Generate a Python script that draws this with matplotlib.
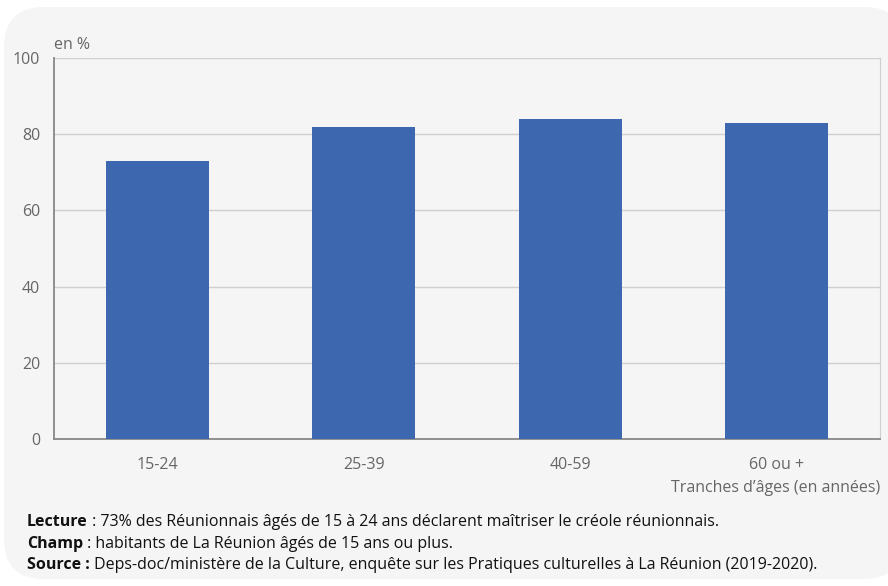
import matplotlib.pyplot as plt
from matplotlib.patches import FancyBboxPatch

plt.rcParams['font.family'] = ['Open Sans', 'DejaVu Sans']

# share of people who say they master Reunion Creole, by age group
age_groups = ['15-24', '25-39', '40-59', '60 ou +']
share_pct = [73, 82, 84, 83]
y_ticks = [0, 20, 40, 60, 80, 100]

BAR_COLOR = '#3d67ae'
TEXT_GRAY = '#666666'
GRID_GRAY = '#cfcfcf'
FS = 11.5

W, H = 888, 586
fig = plt.figure(figsize=(W / 100, H / 100), dpi=100)
fig.patch.set_facecolor('white')

# rounded light panel behind everything
panel = FancyBboxPatch((4 / W, 7 / H), 900 / W, (H - 7 - 7) / H,
                       boxstyle='round,pad=0,rounding_size=0.045',
                       transform=fig.transFigure, facecolor='#f5f5f5',
                       edgecolor='none', zorder=-1,
                       mutation_aspect=W / H)
fig.patches.append(panel)

ax = fig.add_axes([54 / W, (H - 439) / H, (880 - 54) / W, (439 - 58) / H])
ax.set_facecolor('none')
ax.set_zorder(1)

x = range(len(age_groups))
ax.bar(x, share_pct, width=0.5, color=BAR_COLOR, zorder=3)

ax.set_xlim(-0.5, len(age_groups) - 0.5)
ax.set_ylim(0, 100)
ax.set_yticks(y_ticks)
ax.set_xticks(list(x))
ax.set_xticklabels(age_groups)
ax.yaxis.grid(True, color=GRID_GRAY, linewidth=1, zorder=0)
ax.set_axisbelow(True)
ax.tick_params(axis='both', length=0, labelsize=FS, colors=TEXT_GRAY)
ax.tick_params(axis='x', pad=13)
ax.tick_params(axis='y', pad=10)

for side in ('left', 'bottom'):
    ax.spines[side].set_color('#888888')
    ax.spines[side].set_linewidth(1.3)
ax.spines['top'].set_visible(False)
ax.spines['right'].set_color(GRID_GRAY)

fig.text(54 / W, 1 - 45 / H, 'en %', fontsize=FS, color=TEXT_GRAY,
         ha='left', va='center')
fig.text(880 / W, 1 - 488 / H, 'Tranches d\u2019âges (en années)',
         fontsize=FS, color=TEXT_GRAY, ha='right', va='center')

notes = [
    ('Lecture', ' : 73% des Réunionnais âgés de 15 à 24 ans déclarent maîtriser le créole réunionnais.'),
    ('Champ', ' : habitants de La Réunion âgés de 15 ans ou plus.'),
    ('Source :', ' Deps-doc/ministère de la Culture, enquête sur les Pratiques culturelles à La Réunion (2019-2020).'),
]
renderer = fig.canvas.get_renderer()
for i, (head, body) in enumerate(notes):
    yy = 1 - (522 + i * 21.5) / H
    t = fig.text(27 / W, yy, head, fontsize=FS, fontweight='bold',
                 color='#111111', ha='left', va='center')
    bb = t.get_window_extent(renderer)
    fig.text(bb.x1 / W, yy, body, fontsize=FS, color='#111111',
             ha='left', va='center')

fig.savefig('out.png', dpi=100, facecolor='white')
